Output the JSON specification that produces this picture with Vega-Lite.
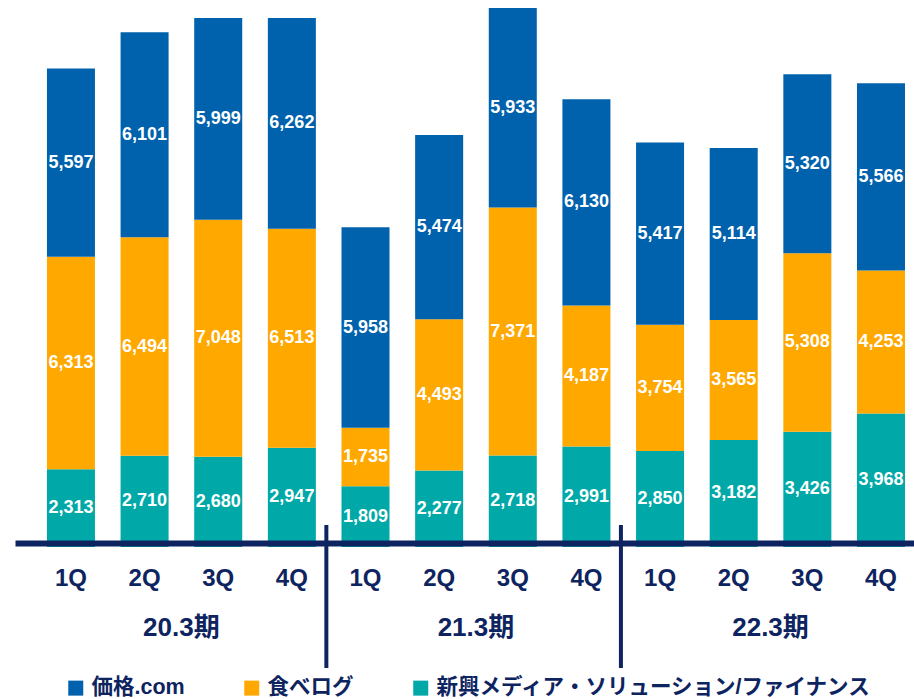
{
  "$schema": "https://vega.github.io/schema/vega-lite/v6.json",
  "autosize": {"type": "none"},
  "padding": {"left": 15, "top": 0, "right": 0, "bottom": 152},
  "width": 899,
  "height": 547,
  "config": {"view": {"stroke": null}, "font": "Liberation Sans, Arial, Noto Sans CJK JP, sans-serif"},
  "datasets": {
    "bars": [
      {"key": "20.3期 1Q", "series": "新興メディア・ソリューション/ファイナンス", "ord": 1, "value": 2313},
      {"key": "20.3期 1Q", "series": "食べログ", "ord": 2, "value": 6313},
      {"key": "20.3期 1Q", "series": "価格.com", "ord": 3, "value": 5597},
      {"key": "20.3期 2Q", "series": "新興メディア・ソリューション/ファイナンス", "ord": 1, "value": 2710},
      {"key": "20.3期 2Q", "series": "食べログ", "ord": 2, "value": 6494},
      {"key": "20.3期 2Q", "series": "価格.com", "ord": 3, "value": 6101},
      {"key": "20.3期 3Q", "series": "新興メディア・ソリューション/ファイナンス", "ord": 1, "value": 2680},
      {"key": "20.3期 3Q", "series": "食べログ", "ord": 2, "value": 7048},
      {"key": "20.3期 3Q", "series": "価格.com", "ord": 3, "value": 5999},
      {"key": "20.3期 4Q", "series": "新興メディア・ソリューション/ファイナンス", "ord": 1, "value": 2947},
      {"key": "20.3期 4Q", "series": "食べログ", "ord": 2, "value": 6513},
      {"key": "20.3期 4Q", "series": "価格.com", "ord": 3, "value": 6262},
      {"key": "21.3期 1Q", "series": "新興メディア・ソリューション/ファイナンス", "ord": 1, "value": 1809},
      {"key": "21.3期 1Q", "series": "食べログ", "ord": 2, "value": 1735},
      {"key": "21.3期 1Q", "series": "価格.com", "ord": 3, "value": 5958},
      {"key": "21.3期 2Q", "series": "新興メディア・ソリューション/ファイナンス", "ord": 1, "value": 2277},
      {"key": "21.3期 2Q", "series": "食べログ", "ord": 2, "value": 4493},
      {"key": "21.3期 2Q", "series": "価格.com", "ord": 3, "value": 5474},
      {"key": "21.3期 3Q", "series": "新興メディア・ソリューション/ファイナンス", "ord": 1, "value": 2718},
      {"key": "21.3期 3Q", "series": "食べログ", "ord": 2, "value": 7371},
      {"key": "21.3期 3Q", "series": "価格.com", "ord": 3, "value": 5933},
      {"key": "21.3期 4Q", "series": "新興メディア・ソリューション/ファイナンス", "ord": 1, "value": 2991},
      {"key": "21.3期 4Q", "series": "食べログ", "ord": 2, "value": 4187},
      {"key": "21.3期 4Q", "series": "価格.com", "ord": 3, "value": 6130},
      {"key": "22.3期 1Q", "series": "新興メディア・ソリューション/ファイナンス", "ord": 1, "value": 2850},
      {"key": "22.3期 1Q", "series": "食べログ", "ord": 2, "value": 3754},
      {"key": "22.3期 1Q", "series": "価格.com", "ord": 3, "value": 5417},
      {"key": "22.3期 2Q", "series": "新興メディア・ソリューション/ファイナンス", "ord": 1, "value": 3182},
      {"key": "22.3期 2Q", "series": "食べログ", "ord": 2, "value": 3565},
      {"key": "22.3期 2Q", "series": "価格.com", "ord": 3, "value": 5114},
      {"key": "22.3期 3Q", "series": "新興メディア・ソリューション/ファイナンス", "ord": 1, "value": 3426},
      {"key": "22.3期 3Q", "series": "食べログ", "ord": 2, "value": 5308},
      {"key": "22.3期 3Q", "series": "価格.com", "ord": 3, "value": 5320},
      {"key": "22.3期 4Q", "series": "新興メディア・ソリューション/ファイナンス", "ord": 1, "value": 3968},
      {"key": "22.3期 4Q", "series": "食べログ", "ord": 2, "value": 4253},
      {"key": "22.3期 4Q", "series": "価格.com", "ord": 3, "value": 5566}
    ],
    "groups": [
      {"key": "20.3期 2Q", "period": "20.3期"},
      {"key": "21.3期 2Q", "period": "21.3期"},
      {"key": "22.3期 2Q", "period": "22.3期"}
    ],
    "seps": [
      {"key": "20.3期 4Q"},
      {"key": "21.3期 4Q"}
    ]
  },
  "resolve": {"scale": {"x": "shared", "y": "shared"}},
  "layer": [
    {
      "data": {"name": "bars"},
      "mark": {"type": "bar"},
      "encoding": {
        "x": {
          "field": "key", "type": "nominal",
          "scale": {
            "domain": ["20.3期 1Q", "20.3期 2Q", "20.3期 3Q", "20.3期 4Q", "21.3期 1Q", "21.3期 2Q", "21.3期 3Q", "21.3期 4Q", "22.3期 1Q", "22.3期 2Q", "22.3期 3Q", "22.3期 4Q"],
            "paddingInner": 0.348, "paddingOuter": 0.278, "align": 0.78
          },
          "axis": {
            "title": null, "labelExpr": "split(datum.label, ' ')[1]", "labelAngle": 0,
            "ticks": false, "tickSize": 0, "domainColor": "#0E2460", "domainWidth": 6,
            "offset": -4,
            "labelFontSize": 24, "labelFontWeight": "bold", "labelColor": "#0E2460",
            "labelPadding": 35, "labelBaseline": "middle", "zindex": 1
          }
        },
        "y": {
          "field": "value", "type": "quantitative", "stack": "zero",
          "scale": {"domain": [0, 16260], "nice": false}, "axis": null
        },
        "color": {
          "field": "series", "type": "nominal",
          "scale": {
            "domain": ["価格.com", "食べログ", "新興メディア・ソリューション/ファイナンス"],
            "range": ["#0062AC", "#FFA800", "#00A9A7"]
          },
          "legend": {
            "title": null, "orient": "none", "legendX": 50, "legendY": 677, "padding": 0,
            "direction": "horizontal", "symbolType": "square", "symbolSize": 225,
            "symbolStrokeWidth": 0, "labelFontSize": 21.5, "labelFontWeight": "bold",
            "labelColor": "#0E2460", "columnPadding": 56, "labelOffset": 5, "labelLimit": 0
          }
        },
        "order": {"field": "ord", "type": "quantitative"}
      }
    },
    {
      "data": {"name": "bars"},
      "mark": {"type": "text", "color": "white", "fontWeight": "bold", "fontSize": 18, "baseline": "middle"},
      "encoding": {
        "x": {"field": "key", "type": "nominal"},
        "y": {"field": "value", "type": "quantitative", "stack": "zero", "bandPosition": 0.5},
        "detail": {"field": "series", "type": "nominal"},
        "order": {"field": "ord", "type": "quantitative"},
        "text": {"field": "value", "type": "quantitative", "format": ",d"}
      }
    },
    {
      "data": {"name": "seps"},
      "mark": {"type": "rule", "color": "#0E2460", "strokeWidth": 4, "xOffset": 34.5},
      "encoding": {
        "x": {"field": "key", "type": "nominal"},
        "y": {"datum": 654},
        "y2": {"datum": -3597}
      }
    },
    {
      "data": {"name": "groups"},
      "mark": {"type": "text", "color": "#0E2460", "fontWeight": "bold", "fontSize": 26, "baseline": "middle", "xOffset": 36.8, "dy": 81},
      "encoding": {
        "x": {"field": "key", "type": "nominal"},
        "y": {"datum": 0},
        "text": {"field": "period", "type": "nominal"}
      }
    }
  ]
}
